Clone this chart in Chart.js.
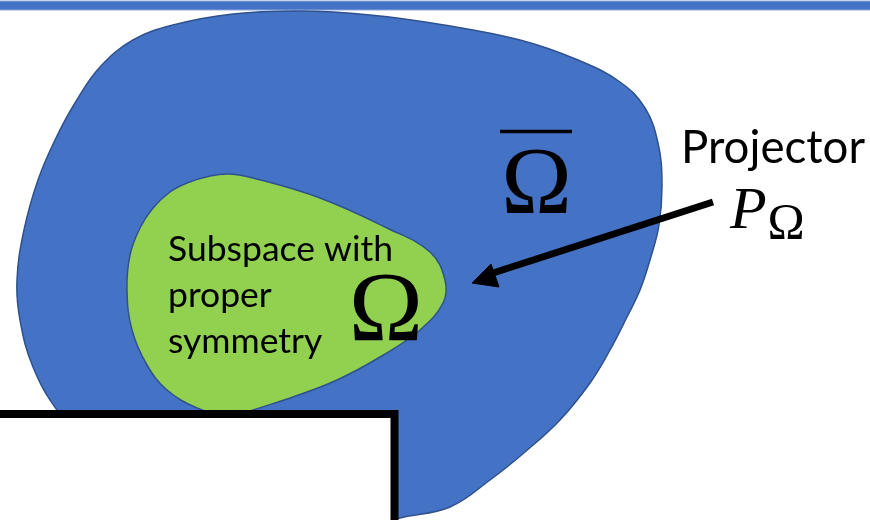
<!DOCTYPE html>
<html>
<head>
<meta charset="utf-8">
<script src="https://cdn.jsdelivr.net/npm/chart.js@4.4.1/dist/chart.umd.min.js"></script>
<style>
  html, body { margin: 0; padding: 0; background: #fff; }
  #wrap { width: 870px; height: 520px; position: relative; }
</style>
</head>
<body>
<div id="wrap"><canvas id="diagram"></canvas></div>
<script>
// outline of the big blue region (closure); starts and ends under the white box
const blueX = [300, 180, 100, 57, 33, 20, 17, 24, 38, 55, 75, 100, 133, 173, 233, 300, 370, 444, 520, 578, 620, 645, 658, 662, 659, 650, 640, 627, 610, 590, 560, 525, 490, 450, 400, 350, 300];
const blueY = [540, 505, 460, 410, 367, 320, 280, 230, 180, 140, 103, 67, 40, 25, 14, 11, 15, 25, 40, 60, 82, 108, 143, 183, 225, 260, 290, 317, 350, 383, 420, 452, 480, 507, 518, 532, 540];

// outline of the green subspace
const greenX = [230, 197, 167, 147, 132, 127, 130, 140, 153, 170, 187, 210, 230, 253, 320, 387, 430, 445, 443, 420, 380, 337, 293, 253, 230];
const greenY = [418, 408, 390, 365, 330, 290, 255, 228, 208, 192, 183, 176, 174, 178, 198, 228, 252, 280, 303, 330, 357, 380, 397, 410, 418];

// white box in the lower left corner
const boxX = [-10, 394.5, 394.5, -10, -10];
const boxY = [414, 414, 530, 530, 414];

// projector arrow: shaft and head
const shaftX = [713, 493];
const shaftY = [202, 273];
const headX = [472, 491, 499, 472];
const headY = [283, 264, 287, 283];

// overline above the closure symbol
const barX = [500, 572];
const barY = [131.5, 131.5];

// title rule at the top
const ruleX = [0, 870];
const ruleY = [5.5, 5.5];

const pts = (xs, ys) => xs.map((x, i) => ({ x, y: ys[i] }));

// text labels, placed in the same data coordinates
const labels = [
  { text: 'Projector', x: 681, y: 163, font: 'Lato', size: 40, fitWidth: 184 },
  { text: 'Subspace with', x: 168, y: 261, font: 'Lato', size: 34, fitWidth: 225, key: 'sub' },
  { text: 'proper', x: 168, y: 307, font: 'Lato', sizeFrom: 'sub' },
  { text: 'symmetry', x: 168, y: 353, font: 'Lato', sizeFrom: 'sub' },
  { text: 'Ω', x: 536.5, y: 213, font: 'Liberation Serif', size: 95, align: 'center' },
  { text: 'Ω', x: 386, y: 340, font: 'Liberation Serif', size: 100, align: 'center' },
  { text: 'P', x: 730, y: 228, font: 'Liberation Serif', size: 60, style: 'italic' },
  { text: 'Ω', x: 786, y: 238, font: 'Liberation Serif', size: 50, align: 'center' }
];

const textPlugin = {
  id: 'labels',
  afterDatasetsDraw(chart) {
    const { ctx, scales: { x, y } } = chart;
    const sizes = {};
    ctx.save();
    ctx.fillStyle = '#000';
    ctx.textBaseline = 'alphabetic';
    for (const l of labels) {
      let size = l.sizeFrom ? sizes[l.sizeFrom] : l.size;
      const st = l.style ? l.style + ' ' : '';
      ctx.font = st + size + 'px "' + l.font + '"';
      if (l.fitWidth) {
        size = size * l.fitWidth / ctx.measureText(l.text).width;
        ctx.font = st + size.toFixed(2) + 'px "' + l.font + '"';
      }
      if (l.key) sizes[l.key] = size;
      ctx.textAlign = l.align || 'left';
      ctx.fillText(l.text, x.getPixelForValue(l.x), y.getPixelForValue(l.y));
    }
    ctx.restore();
  }
};

const shape = (data, fillColor, stroke, width, order) => ({
  data, order,
  showLine: true,
  fill: fillColor ? 'shape' : false,
  backgroundColor: fillColor || 'transparent',
  borderColor: stroke,
  borderWidth: width,
  pointRadius: 0,
  tension: 0
});

const blue = shape(pts(blueX, blueY), '#4472C4', '#2F528F', 1.5, 6);
blue.tension = 0.4;
const green = shape(pts(greenX, greenY), '#92D050', '#2F528F', 1.5, 5);
green.tension = 0.4;
const box = shape(pts(boxX, boxY), '#FFFFFF', '#000000', 8, 4);
box.borderJoinStyle = 'miter';
const shaft = shape(pts(shaftX, shaftY), null, '#000000', 7, 3);
const head = shape(pts(headX, headY), '#000000', '#000000', 1, 2);
const bar = shape(pts(barX, barY), null, '#000000', 3.3, 1);
const ruleLight = shape(pts(ruleX, ruleY), null, '#8FAADC', 10, 8);
const rule = shape(pts(ruleX, ruleY), null, '#4472C4', 8, 7);

new Chart(document.getElementById('diagram'), {
  type: 'scatter',
  data: { datasets: [bar, head, shaft, box, green, blue, rule, ruleLight] },
  options: {
    responsive: true,
    maintainAspectRatio: false,
    animation: false,
    layout: { padding: 0 },
    elements: { line: { capBezierPoints: false } },
    plugins: { legend: { display: false }, tooltip: { enabled: false } },
    scales: {
      x: { type: 'linear', min: 0, max: 870, display: false },
      y: { type: 'linear', min: 0, max: 520, reverse: true, display: false }
    }
  },
  plugins: [textPlugin]
});
</script>
</body>
</html>
